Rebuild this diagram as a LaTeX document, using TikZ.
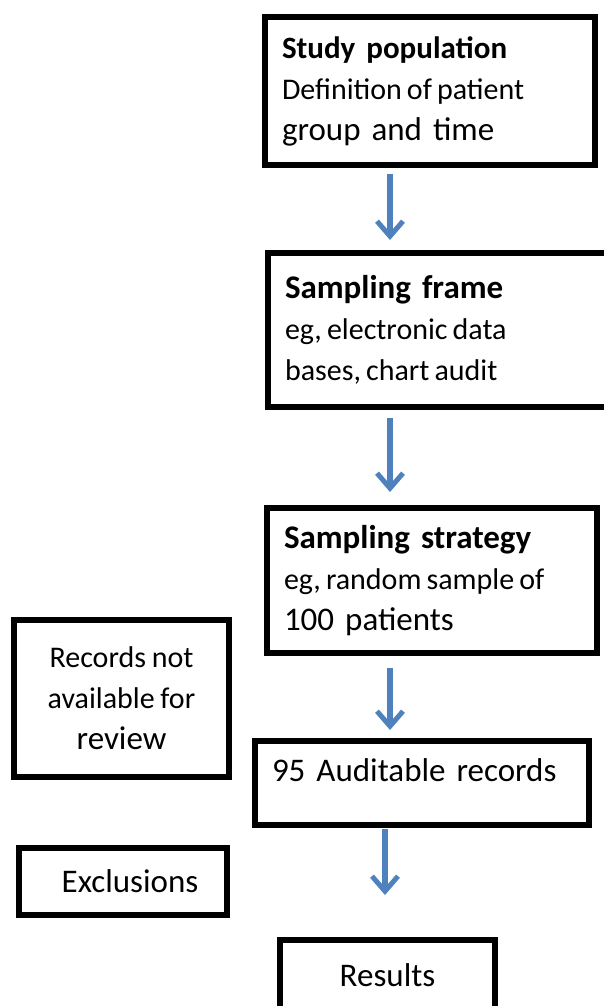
\documentclass[tikz,border=0pt]{standalone}
\usepackage{fontspec}
\setmainfont{Carlito}
\usetikzlibrary{calc,arrows.meta}

\definecolor{flowblue}{HTML}{4F81BD}
% thinner, tighter lines as the original prints them
\newcommand{\thin}[1]{{\fontsize{30}{41}\selectfont\spaceskip=0.17em plus 0.05em #1}}

\begin{document}
\begin{tikzpicture}[x=1pt,y=-1pt,
  box/.style={draw,line width=6pt,inner ysep=0pt,inner xsep=17pt,
    font=\fontsize{33}{41}\selectfont},
  leftbox/.style={box,align=left},
  midbox/.style={box,align=center,inner xsep=6pt},
  flow/.style={draw=flowblue,line width=6pt,
    -{Straight Barb[length=15pt,width=26pt,line width=5pt]}}]

% ----- page frame (boxes run off the right and bottom edge) -----
\useasboundingbox (0,0) rectangle (604,1006);
\clip (0,0) rectangle (604,1006);

% ----- main column -----
\node[leftbox,minimum width=330pt,minimum height=147pt,text width=296pt]
  (study) at (430,91) {{\fontsize{31}{41}\selectfont\textbf{Study population}}\\\thin{Definition of patient}\\group and time};
\node[leftbox,minimum width=352pt,minimum height=154pt,text width=318pt]
  (frame) at (444,330) {\textbf{Sampling frame}\\\thin{eg, electronic data}\\\thin{bases, chart audit}};
\node[leftbox,minimum width=330pt,minimum height=145pt,text width=296pt]
  (strategy) at (432,580.5) {\textbf{Sampling strategy}\\\thin{eg, random sample of}\\100 patients};
\node[leftbox,minimum width=334pt,minimum height=84pt,text width=300pt,text depth=26pt]
  (audit) at (422,783) {95 Auditable records};
\node[midbox,minimum width=215pt,minimum height=70pt,text width=203pt]
  (results) at (387.5,975) {Results};

% ----- side boxes -----
\node[midbox,minimum width=215pt,minimum height=157pt,text width=203pt]
  (missing) at (121.5,698.5) {\thin{Records not}\\\thin{available for}\\review};
\node[midbox,minimum width=208pt,minimum height=67pt,text width=196pt]
  (excl) at (123,881.5) {\hspace{14pt}Exclusions};

% ----- blue arrows (do not touch boxes) -----
\coordinate (lane) at (390,0);
\coordinate (lane2) at (385,0);
\draw[flow,shorten <=6pt,shorten >=10pt] (study.south -| lane) -- (frame.north -| lane);
\draw[flow,shorten <=8pt,shorten >=13pt] (frame.south -| lane) -- (strategy.north -| lane);
\draw[flow,shorten <=12pt,shorten >=8pt] (strategy.south -| lane) -- (audit.north -| lane);
\draw[flow,shorten <=1pt,shorten >=42pt] (audit.south -| lane2) -- (results.north -| lane2);

\end{tikzpicture}
\end{document}
